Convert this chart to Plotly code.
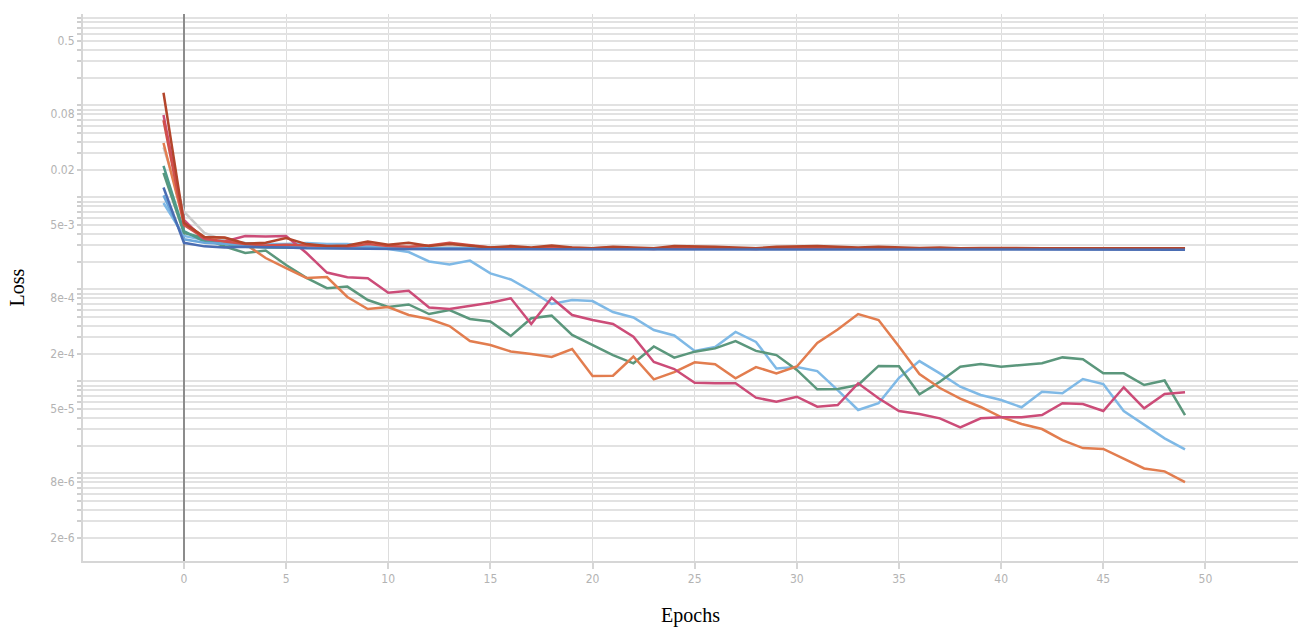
import math
import plotly.graph_objects as go

# Training epochs (the first point is the evaluation before training starts)
epochs = list(range(-1, 50))

# Runs that keep improving
lightblue_loss = [8.68e-3, 3.80e-3, 3.44e-3, 3.35e-3, 3.19e-3, 3.11e-3, 3.11e-3, 3.19e-3, 3.11e-3, 3.11e-3,
                  2.96e-3, 2.74e-3, 2.54e-3, 2.01e-3, 1.86e-3, 2.05e-3, 1.49e-3, 1.28e-3, 9.59e-4, 6.93e-4,
                  7.65e-4, 7.46e-4, 5.67e-4, 4.94e-4, 3.61e-4, 3.15e-4, 2.14e-4, 2.36e-4, 3.44e-4, 2.68e-4,
                  1.38e-4, 1.43e-4, 1.29e-4, 8.04e-5, 4.88e-5, 5.77e-5, 1.09e-4, 1.66e-4, 1.22e-4, 8.74e-5,
                  7.10e-5, 6.26e-5, 5.22e-5, 7.71e-5, 7.41e-5, 1.06e-4, 9.35e-5, 4.76e-5, 3.35e-5, 2.40e-5,
                  1.82e-5]
green_loss = [0.0184, 4.09e-3, 3.61e-3, 2.92e-3, 2.48e-3, 2.64e-3, 1.84e-3, 1.33e-3, 1.03e-3, 1.07e-3,
              7.65e-4, 6.42e-4, 6.84e-4, 5.39e-4, 5.96e-4, 4.76e-4, 4.47e-4, 3.11e-4, 4.84e-4, 5.17e-4,
              3.19e-4, 2.48e-4, 1.93e-4, 1.57e-4, 2.39e-4, 1.81e-4, 2.10e-4, 2.28e-4, 2.74e-4, 2.14e-4,
              1.93e-4, 1.33e-4, 8.19e-5, 8.25e-5, 9.12e-5, 1.47e-4, 1.46e-4, 7.22e-5, 9.90e-5, 1.44e-4,
              1.54e-4, 1.44e-4, 1.50e-4, 1.57e-4, 1.82e-4, 1.74e-4, 1.22e-4, 1.22e-4, 9.12e-5, 1.02e-4,
              4.30e-5]
orange_loss = [0.0390, 5.26e-3, 3.70e-3, 3.61e-3, 3.11e-3, 2.19e-3, 1.70e-3, 1.33e-3, 1.36e-3, 8.25e-4,
               6.11e-4, 6.42e-4, 5.26e-4, 4.76e-4, 3.99e-4, 2.74e-4, 2.48e-4, 2.11e-4, 1.98e-4, 1.84e-4,
               2.24e-4, 1.14e-4, 1.15e-4, 1.86e-4, 1.05e-4, 1.26e-4, 1.61e-4, 1.53e-4, 1.08e-4, 1.43e-4,
               1.22e-4, 1.45e-4, 2.61e-4, 3.66e-4, 5.39e-4, 4.64e-4, 2.39e-4, 1.20e-4, 8.46e-5, 6.50e-5,
               5.26e-5, 4.09e-5, 3.44e-5, 3.03e-5, 2.30e-5, 1.88e-5, 1.84e-5, 1.43e-5, 1.13e-5, 1.05e-5,
               8.04e-6]
pink_loss = [0.0785, 5.67e-3, 3.44e-3, 3.31e-3, 3.80e-3, 3.76e-3, 3.80e-3, 2.48e-3, 1.52e-3, 1.35e-3,
             1.32e-3, 9.19e-4, 9.66e-4, 6.34e-4, 6.11e-4, 6.67e-4, 7.15e-4, 7.99e-4, 4.20e-4, 8.11e-4,
             5.26e-4, 4.64e-4, 4.20e-4, 3.05e-4, 1.62e-4, 1.36e-4, 9.66e-5, 9.51e-5, 9.51e-5, 6.64e-5,
             6.00e-5, 6.80e-5, 5.30e-5, 5.53e-5, 9.51e-5, 6.54e-5, 4.76e-5, 4.41e-5, 3.96e-5, 3.16e-5,
             3.96e-5, 4.06e-5, 4.06e-5, 4.30e-5, 5.77e-5, 5.67e-5, 4.76e-5, 8.61e-5, 5.09e-5, 7.28e-5,
             7.60e-5]

# Runs that plateau early
gray_loss = [0.035, 7.0e-3, 4.1e-3, 3.4e-3, 3.1e-3, 3.0e-3, 3.0e-3, 3.05e-3, 2.95e-3, 2.9e-3,
             2.9e-3, 2.9e-3, 2.85e-3, 2.85e-3, 2.9e-3, 2.85e-3, 2.85e-3, 2.85e-3, 2.8e-3, 2.85e-3,
             2.8e-3, 2.82e-3, 2.8e-3, 2.8e-3, 2.82e-3, 2.8e-3, 2.8e-3, 2.82e-3, 2.8e-3, 2.8e-3,
             2.8e-3, 2.8e-3, 2.8e-3, 2.8e-3, 2.8e-3, 2.8e-3, 2.8e-3, 2.8e-3, 2.8e-3, 2.8e-3,
             2.8e-3, 2.8e-3, 2.8e-3, 2.8e-3, 2.8e-3, 2.8e-3, 2.8e-3, 2.8e-3, 2.8e-3, 2.8e-3,
             2.8e-3]
teal_loss = [0.022, 4.3e-3, 3.3e-3, 3.1e-3, 2.9e-3, 2.85e-3, 2.85e-3, 2.8e-3, 2.8e-3, 2.85e-3,
             2.8e-3, 2.8e-3, 2.78e-3, 2.8e-3, 2.78e-3, 2.8e-3, 2.78e-3, 2.8e-3, 2.8e-3, 2.78e-3,
             2.8e-3, 2.8e-3, 2.78e-3, 2.78e-3, 2.8e-3, 2.78e-3, 2.78e-3, 2.8e-3, 2.78e-3, 2.78e-3,
             2.78e-3, 2.78e-3, 2.78e-3, 2.78e-3, 2.78e-3, 2.78e-3, 2.78e-3, 2.78e-3, 2.78e-3, 2.78e-3,
             2.78e-3, 2.78e-3, 2.78e-3, 2.78e-3, 2.78e-3, 2.78e-3, 2.78e-3, 2.78e-3, 2.78e-3, 2.78e-3,
             2.78e-3]
sky_loss = [0.0105, 3.5e-3, 3.2e-3, 3.1e-3, 3.0e-3, 2.95e-3, 2.9e-3, 2.9e-3, 2.85e-3, 2.85e-3,
            2.85e-3, 2.8e-3, 2.8e-3, 2.78e-3, 2.8e-3, 2.78e-3, 2.78e-3, 2.75e-3, 2.78e-3, 2.75e-3,
            2.75e-3, 2.75e-3, 2.75e-3, 2.75e-3, 2.75e-3, 2.75e-3, 2.75e-3, 2.75e-3, 2.75e-3, 2.75e-3,
            2.75e-3, 2.75e-3, 2.75e-3, 2.75e-3, 2.75e-3, 2.75e-3, 2.75e-3, 2.75e-3, 2.75e-3, 2.75e-3,
            2.75e-3, 2.75e-3, 2.75e-3, 2.75e-3, 2.75e-3, 2.75e-3, 2.75e-3, 2.75e-3, 2.75e-3, 2.75e-3,
            2.75e-3]
red_loss = [0.069, 5.0e-3, 3.6e-3, 3.3e-3, 3.1e-3, 3.0e-3, 3.05e-3, 3.0e-3, 2.9e-3, 2.9e-3,
            3.1e-3, 2.95e-3, 2.9e-3, 3.0e-3, 3.2e-3, 3.0e-3, 2.85e-3, 2.85e-3, 2.8e-3, 2.85e-3,
            2.8e-3, 2.8e-3, 2.85e-3, 2.8e-3, 2.75e-3, 2.85e-3, 2.8e-3, 2.8e-3, 2.8e-3, 2.75e-3,
            2.8e-3, 2.8e-3, 2.8e-3, 2.78e-3, 2.8e-3, 2.78e-3, 2.75e-3, 2.78e-3, 2.78e-3, 2.75e-3,
            2.78e-3, 2.75e-3, 2.78e-3, 2.75e-3, 2.75e-3, 2.78e-3, 2.75e-3, 2.75e-3, 2.75e-3, 2.75e-3,
            2.75e-3]
darkred_loss = [0.137, 5.3e-3, 3.7e-3, 3.65e-3, 3.15e-3, 3.2e-3, 3.6e-3, 3.1e-3, 2.95e-3, 3.0e-3,
                3.3e-3, 3.05e-3, 3.2e-3, 2.95e-3, 3.1e-3, 2.95e-3, 2.85e-3, 2.95e-3, 2.85e-3, 3.0e-3,
                2.85e-3, 2.8e-3, 2.9e-3, 2.85e-3, 2.8e-3, 2.95e-3, 2.95e-3, 2.9e-3, 2.85e-3, 2.8e-3,
                2.9e-3, 2.95e-3, 2.95e-3, 2.9e-3, 2.85e-3, 2.9e-3, 2.85e-3, 2.82e-3, 2.85e-3, 2.8e-3,
                2.82e-3, 2.8e-3, 2.82e-3, 2.8e-3, 2.8e-3, 2.82e-3, 2.8e-3, 2.8e-3, 2.8e-3, 2.8e-3,
                2.8e-3]
blue_loss = [0.0128, 3.2e-3, 2.93e-3, 2.85e-3, 2.9e-3, 2.9e-3, 2.85e-3, 2.8e-3, 2.78e-3, 2.78e-3,
             2.75e-3, 2.75e-3, 2.75e-3, 2.72e-3, 2.75e-3, 2.72e-3, 2.72e-3, 2.72e-3, 2.72e-3, 2.7e-3,
             2.72e-3, 2.7e-3, 2.7e-3, 2.7e-3, 2.7e-3, 2.7e-3, 2.7e-3, 2.7e-3, 2.7e-3, 2.7e-3,
             2.7e-3, 2.7e-3, 2.7e-3, 2.7e-3, 2.7e-3, 2.7e-3, 2.7e-3, 2.7e-3, 2.7e-3, 2.7e-3,
             2.7e-3, 2.7e-3, 2.7e-3, 2.7e-3, 2.7e-3, 2.7e-3, 2.7e-3, 2.7e-3, 2.7e-3, 2.7e-3,
             2.7e-3]

# Labelled positions on the loss axis
y_label_vals = [0.5, 0.08, 0.02, 5e-3, 8e-4, 2e-4, 5e-5, 8e-6, 2e-6]
y_label_text = ["0.5", "0.08", "0.02", "5e-3", "8e-4", "2e-4", "5e-5", "8e-6", "2e-6"]
x_tick_vals = [0, 5, 10, 15, 20, 25, 30, 35, 40, 45, 50]

runs = [
    (gray_loss, "#cbcbcb"),
    (lightblue_loss, "#7fb9e6"),
    (green_loss, "#5b977c"),
    (orange_loss, "#e27d4f"),
    (pink_loss, "#cc4c78"),
    (teal_loss, "#4f9a8a"),
    (sky_loss, "#6aa6da"),
    (red_loss, "#d1504a"),
    (darkred_loss, "#b3452b"),
    (blue_loss, "#4a6db3"),
]

fig = go.Figure()
for values, color in runs:
    fig.add_trace(go.Scatter(x=epochs, y=values, mode="lines",
                             line=dict(color=color, width=2.5),
                             showlegend=False, hoverinfo="skip"))

# Every 1..9 x 10^k position gets a grid line; only some get a label
y_grid_vals = [m * 10.0 ** k for k in range(-6, 1) for m in range(1, 10)]
y_grid_text = []
for v in y_grid_vals:
    label = ""
    for lv, lt in zip(y_label_vals, y_label_text):
        if abs(math.log10(v) - math.log10(lv)) < 1e-6:
            label = lt
    y_grid_text.append(label)

tick_font = dict(family="DejaVu Sans Condensed, Roboto Condensed, Roboto, sans-serif",
                 size=12, color="#b3b3b3", weight=300)
title_font = dict(family="Liberation Serif, DejaVu Serif, serif", size=20, color="#000000")

fig.update_layout(
    width=1298, height=627, autosize=False,
    margin=dict(l=83, r=0, t=14, b=66, pad=0),
    paper_bgcolor="white", plot_bgcolor="white",
    xaxis=dict(
        range=[-4.94, 54.53], tickvals=x_tick_vals,
        showgrid=True, gridcolor="#dddddd", gridwidth=1,
        zeroline=True, zerolinecolor="#8c8c8c", zerolinewidth=1.5,
        showline=True, linecolor="#d6d6d6", linewidth=2,
        ticks="outside", ticklen=6, tickcolor="#d6d6d6", tickwidth=1.5,
        tickfont=tick_font,
        title=dict(text="Epochs", font=title_font, standoff=24),
    ),
    yaxis=dict(
        type="log", range=[-5.953, -0.0075],
        tickmode="array", tickvals=y_grid_vals, ticktext=y_grid_text,
        showgrid=True, gridcolor="#e2e2e2", gridwidth=2,
        zeroline=False,
        showline=True, linecolor="#d6d6d6", linewidth=2,
        ticks="outside", ticklen=4, tickcolor="#cfcfcf", tickwidth=1.5,
        tickfont=tick_font,
        title=dict(text="Loss", font=title_font, standoff=20),
    ),
)

fig.write_html("out.html")
